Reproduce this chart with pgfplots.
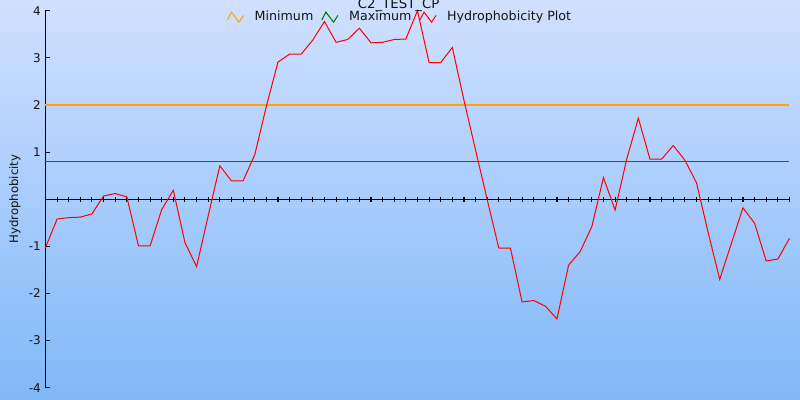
\documentclass[border=0pt]{standalone}
\usepackage{pgfplots}
\usepackage{pgfplotstable}
\pgfplotsset{compat=1.18}
\usepackage{fontspec}
\setmainfont{DejaVu Sans}
\definecolor{bgtop}{RGB}{208,224,255}
\definecolor{bgbot}{RGB}{128,184,248}
\definecolor{minorange}{RGB}{255,165,0}
\definecolor{maxgreen}{RGB}{0,128,0}
\definecolor{txt}{RGB}{20,20,20}

\pgfplotstableread{
x y
0 -1.03
1 -0.42
2 -0.39
3 -0.38
4 -0.31
5 0.07
6 0.12
7 0.05
8 -0.99
9 -0.99
10 -0.22
11 0.19
12 -0.92
13 -1.43
14 -0.35
15 0.71
16 0.39
17 0.39
18 0.94
19 1.97
20 2.91
21 3.08
22 3.08
23 3.38
24 3.77
25 3.33
26 3.39
27 3.63
28 3.32
29 3.33
30 3.39
31 3.40
32 4.00
33 2.90
34 2.90
35 3.22
36 2.10
37 1.04
38 -0.01
39 -1.04
40 -1.04
41 -2.18
42 -2.15
43 -2.27
44 -2.54
45 -1.40
46 -1.11
47 -0.58
48 0.46
49 -0.23
50 0.85
51 1.72
52 0.85
53 0.85
54 1.14
55 0.83
56 0.35
57 -0.70
58 -1.70
59 -0.94
60 -0.18
61 -0.51
62 -1.31
63 -1.27
64 -0.83
}\hydro

\begin{document}
\begin{tikzpicture}[x=1pt,y=1pt]
\useasboundingbox (0,0) rectangle (600,300);
\shade[top color=bgtop, bottom color=bgbot] (0,0) rectangle (600,300);
\begin{axis}[
  at={(34.1pt,9.2pt)}, anchor=south west,
  scale only axis, width=558pt, height=282.75pt,
  xmin=0, xmax=64, ymin=-4, ymax=4,
  axis x line=middle, axis y line=left,
  axis line style={-, line width=0.8pt, black},
  xtick={0,...,64}, xticklabels={},
  ytick={-4,-3,-2,-1,1,2,3,4},
  yticklabels={-4,-3,-2,-1,1,2,3,4},
  xtick align=center, ytick align=inside,
  major tick length=3.4pt,
  every tick/.style={black, line width=0.8pt},
  tick label style={font=\fontsize{9}{11}\selectfont, text=txt},
  ylabel={Hydrophobicity},
  ylabel style={at={(axis description cs:-0.041,0.5)}, anchor=center, font=\fontsize{8.8}{10}\selectfont, text=txt},
  clip=false,
  legend style={at={(axis description cs:0.477,0.983)}, anchor=center, draw=none, fill=none,
    font=\fontsize{9.5}{11}\selectfont, text=txt, inner sep=0pt,
    /tikz/every even column/.append style={column sep=4pt}},
  legend columns=-1,
  legend image code/.code={\draw[#1] (0pt,-2pt) -- (3pt,3.75pt) -- (8.75pt,-3.75pt) -- (12pt,1.25pt);\path (18pt,0pt);},
]
\addplot[color=minorange, line width=0.8pt] coordinates {(0,2) (64,2)};
\addlegendentry{Minimum}
\addplot[color=maxgreen, line width=0.8pt] coordinates {(0,0.8) (64,0.8)};
\addlegendentry{Maximum}
\addplot[color=red, line width=0.75pt] table[x=x, y=y] {\hydro};
\addlegendentry{Hydrophobicity Plot}
\end{axis}
\node[font=\fontsize{10}{12}\selectfont, text=txt, anchor=base] at (299,293.5) {C2\_TEST\_CP};
\end{tikzpicture}
\end{document}
